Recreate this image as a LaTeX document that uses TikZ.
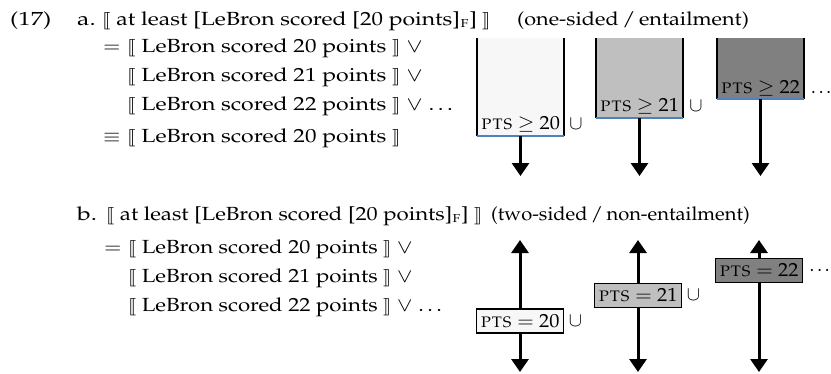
\documentclass[tikz,border=0pt]{standalone}
\usepackage[T1]{fontenc}
\usepackage{mathpazo}
\usepackage{amsmath}
\usepackage{stmaryrd}
\usepackage{graphicx}
\usetikzlibrary{arrows.meta,positioning}
\definecolor{rimblue}{RGB}{79,129,189}
\newcommand{\hs}[2]{\scalebox{#1}[1]{#2}}

\begin{document}
\begin{tikzpicture}[x=1pt,y=-1pt,
    txt/.style = {anchor=base west, inner sep=0pt, font=\fontsize{19}{23}\selectfont},
    sbox/.style = {anchor=south west, minimum width=87pt, inner sep=0pt, outer sep=0pt},
    pbox/.style = {draw, line width=1.5pt, minimum width=87pt, minimum height=24pt, inner sep=2pt, outer sep=0pt, font=\fontsize{19}{23}\selectfont},
    arr/.style = {line width=3pt, -{Triangle[length=13pt,width=17pt]}},
    side/.style = {line width=1.5pt},
    rim/.style = {line width=1.2pt, rimblue}]
    \useasboundingbox (0,0) rectangle (831,373);

    % (17a)
    \node[txt](n17) at (10,25) {\hs{1.3}{(17)}};
    \node[txt](la) at (77,25) {\hs{1.3}{a.}};
    \node[txt](a0) at (102,25) {\hs{1.21}{$\llbracket$ at least [LeBron scored [20 points]$_{\textsc{f}}$] $\rrbracket$}};
    \node[txt](ha) at (517,25) {\hs{1.14}{(one-sided\,/\,entailment)}};
    \node[txt](qa1) at (103,52) {\hs{1.1}{$=$}};
    \node[txt](a1) at (127,52) {\hs{1.215}{$\llbracket$ LeBron scored 20 points $\rrbracket$ $\vee$}};
    \node[txt](a2) at (127,81) {\hs{1.215}{$\llbracket$ LeBron scored 21 points $\rrbracket$ $\vee$}};
    \node[txt](a3) at (127,110) {\hs{1.215}{$\llbracket$ LeBron scored 22 points $\rrbracket$ $\vee$ \dots}};
    \node[txt](qa4) at (103,142) {\hs{1.1}{$\equiv$}};
    \node[txt](a4) at (127,142) {\hs{1.215}{$\llbracket$ LeBron scored 20 points $\rrbracket$}};

    \node[sbox, fill=gray!6, minimum height=98pt](sa1) at (477,136) {};
    \draw[side] (sa1.north west) -- (sa1.south west) (sa1.north east) -- (sa1.south east);
    \draw[rim] (sa1.south west) -- (sa1.south east);
    \node[txt](pa1) at (481,129) {\hs{1.07}{\textsc{pts} $\geq$ 20}};
    \node[txt](ua1) at (569,129) {$\cup$};
    \coordinate (ea1) at (520.5,176);
    \draw[arr] (sa1.south) -- (ea1);

    \node[sbox, fill=black!25, minimum height=80pt](sa2) at (596,118) {};
    \draw[side] (sa2.north west) -- (sa2.south west) (sa2.north east) -- (sa2.south east);
    \draw[rim] (sa2.south west) -- (sa2.south east);
    \node[txt](pa2) at (600,111) {\hs{1.07}{\textsc{pts} $\geq$ 21}};
    \node[txt](ua2) at (689,111) {$\cup$};
    \coordinate (ea2) at (639.5,176);
    \draw[arr] (sa2.south) -- (ea2);

    \node[sbox, fill=black!50, minimum height=61pt](sa3) at (717,99) {};
    \draw[side] (sa3.north west) -- (sa3.south west) (sa3.north east) -- (sa3.south east);
    \draw[rim] (sa3.south west) -- (sa3.south east);
    \node[txt](pa3) at (721,93) {\hs{1.07}{\textsc{pts} $\geq$ 22}};
    \node[txt](da3) at (811,93) {\dots};
    \coordinate (ea3) at (760.5,176);
    \draw[arr] (sa3.south) -- (ea3);

    % (17b)
    \node[txt](lb) at (77,220) {\hs{1.3}{b.}};
    \node[txt](b0) at (106,220) {\hs{1.17}{$\llbracket$ at least [LeBron scored [20 points]$_{\textsc{f}}$] $\rrbracket$}};
    \node[txt](hb) at (491,220) {\hs{1.06}{(two-sided\,/\,non-entailment)}};
    \node[txt](qb1) at (104,253) {\hs{1.1}{$=$}};
    \node[txt](b1) at (128,253) {\hs{1.17}{$\llbracket$ LeBron scored 20 points $\rrbracket$ $\vee$}};
    \node[txt](b2) at (128,282) {\hs{1.17}{$\llbracket$ LeBron scored 21 points $\rrbracket$ $\vee$}};
    \node[txt](b3) at (128,311) {\hs{1.17}{$\llbracket$ LeBron scored 22 points $\rrbracket$ $\vee$ \dots}};

    \node[pbox, fill=gray!6](sb1) at (520,321) {\hs{1.07}{\textsc{pts} $=$ 20}};
    \node[txt, anchor=west](ub1) [right=5pt of sb1] {$\cup$};
    \coordinate (tb1) at (520,240);
    \coordinate (eb1) at (520,372);
    \draw[arr] (sb1.north) -- (tb1);
    \draw[arr] (sb1.south) -- (eb1);

    \node[pbox, fill=black!25](sb2) at (638,295.5) {\hs{1.07}{\textsc{pts} $=$ 21}};
    \node[txt, anchor=west](ub2) [right=5pt of sb2] {$\cup$};
    \coordinate (tb2) at (638,240);
    \coordinate (eb2) at (638,372);
    \draw[arr] (sb2.north) -- (tb2);
    \draw[arr] (sb2.south) -- (eb2);

    \node[pbox, fill=black!50](sb3) at (759,270.5) {\hs{1.07}{\textsc{pts} $=$ 22}};
    \node[txt, anchor=west](db3) [right=7pt of sb3] {\dots};
    \coordinate (tb3) at (759,240);
    \coordinate (eb3) at (759,372);
    \draw[arr] (sb3.north) -- (tb3);
    \draw[arr] (sb3.south) -- (eb3);
\end{tikzpicture}
\end{document}
